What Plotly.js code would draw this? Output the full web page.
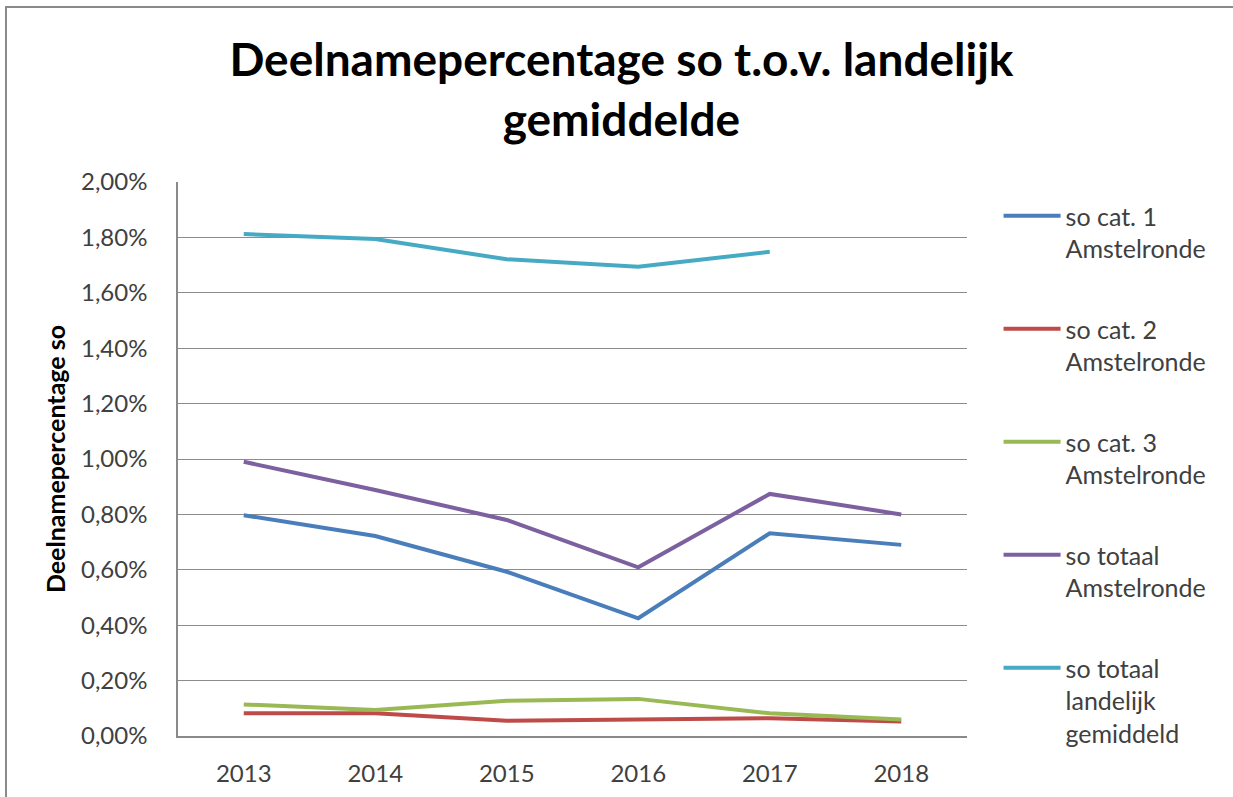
<!DOCTYPE html>
<html>
<head>
<meta charset="utf-8">
<script src="https://cdn.plot.ly/plotly-3.0.1.min.js"></script>
<style>
  html, body { margin: 0; padding: 0; background: #fff; }
  #chart { width: 1233px; height: 797px; }
  #frame {
    position: absolute; left: 5px; top: 6px; width: 1240px; height: 800px;
    border-top: 2px solid #8a8a8a; border-left: 2px solid #8a8a8a;
    pointer-events: none;
  }
</style>
</head>
<body>
<div id="chart"></div>
<div id="frame"></div>
<script>
// Deelnamepercentage so t.o.v. landelijk gemiddelde
const years = ['2013', '2014', '2015', '2016', '2017', '2018'];

const cat1Amstelronde = [0.00797, 0.00722, 0.00593, 0.00425, 0.00732, 0.00690];
const cat2Amstelronde = [0.00082, 0.00082, 0.00055, 0.00061, 0.00064, 0.00052];
const cat3Amstelronde = [0.00114, 0.00094, 0.00127, 0.00134, 0.00082, 0.00060];
const totaalAmstelronde = [0.00990, 0.00888, 0.00780, 0.00609, 0.00874, 0.00800];
const totaalLandelijk = [0.01812, 0.01794, 0.01721, 0.01694, 0.01748, null];

const seriesNames = [
    'so cat. 1<br>Amstelronde',
    'so cat. 2<br>Amstelronde',
    'so cat. 3<br>Amstelronde',
    'so totaal<br>Amstelronde',
    'so totaal<br>landelijk<br>gemiddeld'
];
const seriesColors = ['#4a7ebb', '#be4b48', '#98b954', '#7d60a0', '#46aac5'];
const seriesValues = [cat1Amstelronde, cat2Amstelronde, cat3Amstelronde, totaalAmstelronde, totaalLandelijk];

const font = 'Lato, "Open Sans", sans-serif';

const traces = seriesValues.map((vals, i) => ({
    x: years,
    y: vals,
    name: seriesNames[i],
    legendgroup: 'g' + i,
    type: 'scatter',
    mode: 'lines',
    line: { color: seriesColors[i], width: 4 },
    connectgaps: false,
    hoverinfo: 'x+y+name',
}));

const layout = {
    width: 1233,
    height: 797,
    paper_bgcolor: 'rgba(0,0,0,0)',
    plot_bgcolor: 'rgba(0,0,0,0)',
    separators: ',.',
    font: { family: font, color: '#404040', size: 24 },
    margin: { t: 182, b: 61, l: 178, r: 266 },
    title: {
        text: '<b>Deelnamepercentage so t.o.v. landelijk<br>gemiddelde</b>',
        font: { family: font, size: 46, color: '#000' },
        x: 0.504, xanchor: 'center',
        y: 0.905, yanchor: 'top', yref: 'container',
    },
    xaxis: {
        type: 'category',
        range: [-0.5, 5.5],
        showgrid: false,
        showline: true,
        linecolor: '#8a8a8a',
        linewidth: 1.5,
        ticks: '',
        ticklabelstandoff: 15,
        tickfont: { size: 24, color: '#404040' },
        zeroline: false,
        fixedrange: true,
    },
    yaxis: {
        title: { text: '<b>Deelnamepercentage so</b>', font: { size: 25, color: '#000' }, standoff: 8 },
        range: [0, 0.02],
        dtick: 0.002,
        tickformat: '.2%',
        showgrid: true,
        gridcolor: '#8c8c8c',
        gridwidth: 1,
        showline: true,
        linecolor: '#8a8a8a',
        linewidth: 1.5,
        ticks: '',
        ticklabelstandoff: 24,
        tickfont: { size: 24, color: '#404040' },
        zeroline: false,
        fixedrange: true,
    },
    legend: {
        x: 1.04, xanchor: 'left',
        y: 0.98, yanchor: 'top',
        traceorder: 'grouped',
        tracegroupgap: 45,
        valign: 'top',
        itemwidth: 57,
        maxheight: 750,
        font: { size: 25, color: '#404040' },
        bgcolor: 'rgba(0,0,0,0)',
    },
    showlegend: true,
};

Plotly.newPlot('chart', traces, layout, { displayModeBar: false, responsive: false });
</script>
</body>
</html>
